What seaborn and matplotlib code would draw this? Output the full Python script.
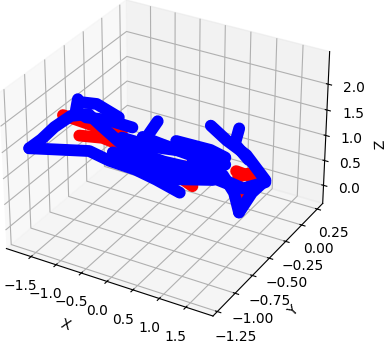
import matplotlib
matplotlib.use('Agg')
import matplotlib.pyplot as plt
import seaborn as sns

sns.reset_orig()

# strokes, one inner list per stroke
red_x = [[-1.46, -1.06, -0.64], [-1.24, -0.92, -0.56, -0.28, 0.15, 0.51], [-0.31, 0.08, 0.36],
         [0.98, 1.22, 1.22, 1.05], [1.01, 1.15]]
red_y = [[-0.88, -0.77, -0.66], [-0.82, -0.73, -0.64, -0.56, -0.44, -0.35], [-0.57, -0.46, -0.39],
         [-0.22, -0.16, -0.16, -0.20], [-0.21, -0.17]]
red_z = [[1.86, 1.65, 1.49], [1.46, 1.40, 1.20, 0.95, 0.81, 0.76], [0.95, 0.68, 0.41],
         [0.68, 0.56, 0.29, 0.19], [0.56, 0.62]]

blue_x = [
    [-1.95, -1.59, -1.11, -0.82, -0.45, -0.16, 0.18],
    [-1.95, -1.78, -1.59, -1.35, -1.11, -0.92, -0.64, -0.42, -0.06, 0.51, 1.08, 1.41],
    [-1.25, -1.28, -1.14, -0.85, -0.49],
    [-1.25, -0.99, -0.68],
    [-0.14, -0.31, -0.49],
    [0.61, 0.84, 1.12, 1.41, 1.22, 1.04],
    [1.01, 0.96, 1.15],
    [1.04, 0.96, 0.79, 0.36],
    [-0.64, -0.21, 0.22, 0.65, 0.82],
    [-0.78, -0.35, 0.08, 0.65, 0.86],
    [-0.49, 0.01, 0.65],
    [0.12, 0.61, 0.82],
    [-0.35, 0.15, 0.72],
]
blue_y = [
    [-1.01, -0.91, -0.78, -0.71, -0.61, -0.53, -0.44],
    [-1.01, -0.96, -0.91, -0.85, -0.78, -0.73, -0.66, -0.60, -0.50, -0.35, -0.19, -0.11],
    [-0.82, -0.83, -0.79, -0.71, -0.62],
    [-0.82, -0.75, -0.67],
    [-0.52, -0.57, -0.62],
    [-0.32, -0.26, -0.18, -0.11, -0.16, -0.21],
    [-0.21, -0.23, -0.17],
    [-0.21, -0.23, -0.27, -0.39],
    [-0.66, -0.54, -0.43, -0.31, -0.26],
    [-0.69, -0.58, -0.46, -0.31, -0.25],
    [-0.62, -0.48, -0.31],
    [-0.45, -0.32, -0.26],
    [-0.58, -0.44, -0.29],
]
blue_z = [
    [1.24, 1.20, 1.15, 0.96, 0.77, 0.56, 0.29],
    [1.24, 1.40, 1.63, 1.84, 1.86, 1.61, 1.27, 1.11, 0.91, 0.71, 0.33, 0.45],
    [2.15, 1.94, 1.80, 1.74, 1.59],
    [2.10, 2.05, 1.79],
    [1.69, 1.36, 1.11],
    [1.58, 1.29, 0.99, 0.49, 0.25, -0.14],
    [1.51, 1.22, 0.89],
    [-0.14, 0.26, 0.61, 0.90],
    [1.40, 1.20, 1.11, 0.90, 0.81],
    [1.11, 0.91, 0.68, 0.56, 0.43],
    [0.81, 0.56, 0.52],
    [1.30, 1.11, 0.95],
    [1.40, 1.11, 0.81],
]

x_ticks = [-1.5, -1.0, -0.5, 0.0, 0.5, 1.0, 1.5]
y_ticks = [-1.25, -1.00, -0.75, -0.50, -0.25, 0.00, 0.25]
z_ticks = [0.0, 0.5, 1.0, 1.5, 2.0]

palette = sns.color_palette(['red', 'blue'])

fig = plt.figure(figsize=(3.86, 3.43), dpi=100)
ax = fig.add_axes([-0.094, 0.011, 1.03, 1.072], projection='3d', computed_zorder=False)

for xs, ys, zs in zip(red_x, red_y, red_z):
    ax.plot(xs, ys, zs, color=palette[0], lw=8.5, solid_capstyle='round', solid_joinstyle='round', zorder=2)
for xs, ys, zs in zip(blue_x, blue_y, blue_z):
    ax.plot(xs, ys, zs, color=palette[1], lw=8.5, solid_capstyle='round', solid_joinstyle='round', zorder=3)

ax.set_xlim(-2.0, 2.0)
ax.set_ylim(-1.31, 0.34)
ax.set_zlim(-0.37, 2.62)
ax.set_xticks(x_ticks)
ax.set_yticks(y_ticks)
ax.set_zticks(z_ticks)

# axis labels sit off-centre in the reference, so they are placed by hand
fig.text(65 / 386, 1 - 325 / 343, 'X', rotation=-20, ha='center', va='center', fontsize=10)
fig.text(293 / 386, 1 - 311 / 343, 'Y', rotation=46, ha='center', va='center', fontsize=10)
fig.text(380 / 386, 1 - 144 / 343, 'Z', rotation=92, ha='center', va='center', fontsize=10)

fig.savefig('out.png', dpi=100)
